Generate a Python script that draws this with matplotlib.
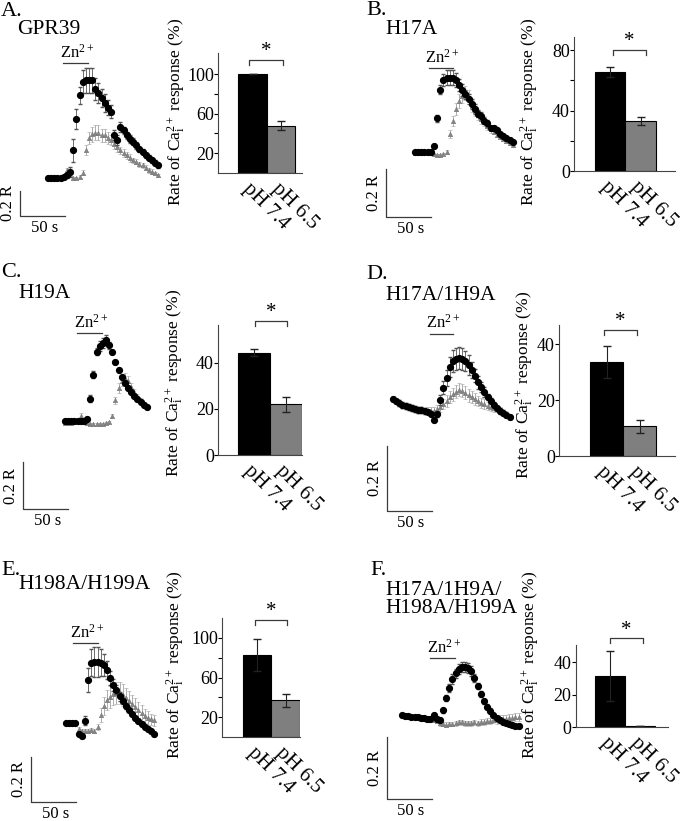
import numpy as np
import matplotlib
matplotlib.use("Agg")
import matplotlib.pyplot as plt

plt.rcParams["font.family"] = ["Liberation Serif", "DejaVu Serif"]
plt.rcParams["mathtext.fontset"] = "custom"
plt.rcParams["mathtext.rm"] = "Liberation Serif"
plt.rcParams["mathtext.it"] = "Liberation Serif:italic"
plt.rcParams["mathtext.bf"] = "Liberation Serif:bold"

# ---------------- data ----------------
letters = ["A.", "B.", "C.", "D.", "E.", "F."]
names = ["GPR39", "H17A", "H19A", "H17A/1H9A", "H198A/H199A",
         "H17A/1H9A/\nH198A/H199A"]
conditions = ["pH 7.4", "pH 6.5"]
dt = 3.5  # s between frames

# fura-2 ratio change (R) at pH 7.4 (black) and pH 6.5 (grey), mean and s.e.m.
a_ph74 = [0, 0, 0, 0, 0, 0.01, 0.02, 0.05, 0.22, 0.47, 0.66, 0.77, 0.78, 0.78, 0.78, 0.71, 0.68, 0.64,
          0.60, 0.56, 0.53, 0.34, 0.30, 0.41, 0.38, 0.34, 0.31, 0.29, 0.26, 0.23, 0.21, 0.18, 0.16, 0.14, 0.12, 0.10]
a_ph74_err = [0.01, 0.01, 0.01, 0.01, 0.01, 0.01, 0.02, 0.04, 0.09, 0.08, 0.07, 0.09, 0.10, 0.10, 0.10, 0.09, 0.08, 0.07,
              0.07, 0.06, 0.05, 0.04, 0.04, 0.04, 0.03, 0.03, 0.03, 0.03, 0.03, 0.02, 0.02, 0.02, 0.02, 0.02, 0.02, 0.02]
a_ph65 = [0, 0, 0, 0, 0.01, 0.02, 0.06, 0.02, 0, 0, 0.01, 0.04, 0.22, 0.32, 0.35, 0.36, 0.36, 0.34,
          0.34, 0.32, 0.30, 0.27, 0.25, 0.22, 0.20, 0.18, 0.16, 0.14, 0.13, 0.11, 0.10, 0.08, 0.06, 0.05, 0.04, 0.02]
a_ph65_err = [0.01, 0.01, 0.01, 0.01, 0.01, 0.01, 0.02, 0.01, 0.01, 0.01, 0.01, 0.02, 0.04, 0.05, 0.06, 0.06, 0.06, 0.05,
              0.05, 0.05, 0.04, 0.04, 0.04, 0.03, 0.03, 0.03, 0.03, 0.02, 0.02, 0.02, 0.02, 0.02, 0.02, 0.02, 0.01, 0.01]

b_ph74 = [0, 0, 0, 0, 0, 0, 0.025, 0.14, 0.26, 0.30, 0.31, 0.31, 0.31, 0.30, 0.28, 0.26,
          0.24, 0.22, 0.20, 0.18, 0.16, 0.15, 0.13, 0.12, 0.10, 0.10, 0.09, 0.075, 0.067, 0.058, 0.05, 0.042]
b_ph74_err = [0.005, 0.005, 0.005, 0.005, 0.005, 0.005, 0.01, 0.015, 0.02, 0.025, 0.03, 0.03, 0.03, 0.03, 0.025, 0.025,
              0.02, 0.02, 0.02, 0.02, 0.015, 0.015, 0.015, 0.015, 0.01, 0.01, 0.01, 0.01, 0.01, 0.01, 0.01, 0.01]
b_ph65 = [-0.004, -0.004, -0.004, -0.004, -0.004, -0.004, -0.008, -0.013, -0.013, -0.008, 0, 0.075, 0.129, 0.179, 0.213, 0.233,
          0.246, 0.229, 0.192, 0.171, 0.154, 0.138, 0.125, 0.108, 0.096, 0.083, 0.071, 0.063, 0.054, 0.046, 0.038, 0.029]
b_ph65_err = [0.005, 0.005, 0.005, 0.005, 0.005, 0.005, 0.005, 0.005, 0.005, 0.005, 0.01, 0.015, 0.02, 0.025, 0.03, 0.03,
              0.03, 0.03, 0.025, 0.02, 0.02, 0.02, 0.015, 0.015, 0.015, 0.01, 0.01, 0.01, 0.01, 0.01, 0.01, 0.01]

c_ph74 = [0, 0, 0, 0, 0, 0, 0, 0.009, 0.095, 0.196, 0.294, 0.319, 0.332, 0.345, 0.323, 0.294,
          0.251, 0.217, 0.187, 0.162, 0.140, 0.123, 0.106, 0.094, 0.081, 0.068, 0.060]
c_ph74_err = [0.005, 0.005, 0.005, 0.005, 0.005, 0.005, 0.005, 0.01, 0.015, 0.015, 0.015, 0.02, 0.02, 0.02, 0.015, 0.01,
              0.01, 0.01, 0.01, 0.01, 0.01, 0.01, 0.01, 0.01, 0.01, 0.01, 0.01]
c_ph65 = [-0.009, -0.009, -0.009, -0.004, 0.004, 0.021, 0, -0.009, -0.013, -0.013, -0.013, -0.013, -0.013, -0.009, -0.004, 0.021,
          0.089, 0.140, 0.170, 0.183, 0.170, 0.145, 0.123, 0.106, 0.089, 0.072, 0.060]
c_ph65_err = [0.005, 0.005, 0.005, 0.005, 0.01, 0.015, 0.005, 0.005, 0.005, 0.005, 0.005, 0.005, 0.005, 0.005, 0.005, 0.01,
              0.015, 0.02, 0.02, 0.02, 0.02, 0.015, 0.015, 0.01, 0.01, 0.01, 0.01]

d_ph74 = [0.003, -0.003, -0.009, -0.015, -0.018, -0.022, -0.025, -0.028, -0.031, -0.031, -0.034, -0.037, -0.043,
          -0.062, -0.043, 0, 0.037, 0.068, 0.102, 0.120, 0.126, 0.129, 0.126, 0.120, 0.108, 0.092, 0.074, 0.055,
          0.040, 0.025, 0.009, -0.003, -0.015, -0.025, -0.034, -0.040, -0.046, -0.052]
d_ph74_err = [0.006, 0.006, 0.006, 0.006, 0.006, 0.006, 0.006, 0.006, 0.006, 0.006, 0.006, 0.006, 0.006,
              0.006, 0.01, 0.015, 0.02, 0.025, 0.03, 0.035, 0.035, 0.035, 0.035, 0.03, 0.03, 0.025, 0.02, 0.02,
              0.015, 0.015, 0.01, 0.01, 0.01, 0.008, 0.008, 0.006, 0.006, 0.006]
d_ph65 = [0.003, -0.003, -0.009, -0.015, -0.018, -0.022, -0.025, -0.028, -0.031, -0.031, -0.034, -0.034, -0.034,
          -0.034, -0.028, -0.022, -0.012, -0.003, 0.009, 0.018, 0.025, 0.031, 0.028, 0.022, 0.015, 0.009, 0.003, -0.003,
          -0.009, -0.012, -0.018, -0.022, -0.025, -0.028, -0.031, -0.037, -0.043, -0.052]
d_ph65_err = [0.01, 0.01, 0.012, 0.012, 0.012, 0.012, 0.012, 0.012, 0.012, 0.012, 0.012, 0.012, 0.012,
              0.012, 0.012, 0.015, 0.015, 0.018, 0.018, 0.02, 0.02, 0.02, 0.02, 0.02, 0.02, 0.018, 0.018, 0.015,
              0.015, 0.015, 0.012, 0.012, 0.012, 0.01, 0.01, 0.01, 0.01, 0.01]

e_ph74 = [0, 0, 0, 0, -0.049, -0.058, 0.009, 0.191, 0.267, 0.271, 0.271, 0.267, 0.258, 0.236, 0.200,
          0.169, 0.147, 0.120, 0.098, 0.076, 0.058, 0.040, 0.022, 0.009, -0.004, -0.018, -0.027, -0.036, -0.049]
e_ph74_err = [0.005, 0.005, 0.005, 0.005, 0.01, 0.01, 0.02, 0.055, 0.06, 0.065, 0.065, 0.06, 0.05, 0.04, 0.03,
              0.025, 0.02, 0.02, 0.015, 0.015, 0.01, 0.01, 0.01, 0.01, 0.01, 0.01, 0.01, 0.01, 0.01]
e_ph65 = [0, 0, 0, 0, -0.027, -0.036, -0.036, -0.036, -0.031, -0.036, -0.018, 0.036, 0.076, 0.102, 0.116,
          0.129, 0.133, 0.133, 0.124, 0.111, 0.098, 0.084, 0.071, 0.058, 0.044, 0.031, 0.022, 0.016, 0.012]
e_ph65_err = [0.005, 0.005, 0.005, 0.005, 0.01, 0.01, 0.01, 0.01, 0.01, 0.01, 0.015, 0.03, 0.04, 0.045, 0.05,
              0.05, 0.05, 0.05, 0.05, 0.045, 0.045, 0.04, 0.04, 0.035, 0.035, 0.03, 0.03, 0.025, 0.025]

f_ph74 = [0, -0.002, -0.003, -0.005, -0.006, -0.008, -0.010, -0.011, -0.013, -0.013, 0, -0.013, -0.016,
          0.016, 0.055, 0.087, 0.116, 0.135, 0.148, 0.155, 0.155, 0.152, 0.142, 0.119, 0.094, 0.068, 0.045,
          0.026, 0.013, 0, -0.010, -0.016, -0.023, -0.026, -0.029, -0.032, -0.035, -0.035]
f_ph74_err = [0.005, 0.005, 0.005, 0.005, 0.005, 0.005, 0.005, 0.005, 0.005, 0.005, 0.008, 0.005, 0.005,
              0.008, 0.01, 0.012, 0.015, 0.015, 0.015, 0.015, 0.015, 0.015, 0.015, 0.012, 0.01, 0.01, 0.008,
              0.008, 0.008, 0.006, 0.006, 0.006, 0.006, 0.006, 0.006, 0.006, 0.006, 0.006]
f_ph65 = [0, -0.002, -0.003, -0.005, -0.006, -0.008, -0.010, -0.011, -0.013, -0.013, -0.016, -0.019, -0.026,
          -0.029, -0.032, -0.029, -0.029, -0.026, -0.023, -0.023, -0.026, -0.026, -0.026, -0.023, -0.026, -0.023,
          -0.023, -0.019, -0.019, -0.016, -0.016, -0.013, -0.013, -0.013, -0.010, -0.010, -0.006, -0.006]
f_ph65_err = [0.006, 0.006, 0.006, 0.006, 0.006, 0.006, 0.006, 0.006, 0.006, 0.008, 0.008, 0.008, 0.008,
              0.008, 0.008, 0.008, 0.008, 0.008, 0.008, 0.008, 0.008, 0.008, 0.008, 0.008, 0.008, 0.01, 0.01,
              0.01, 0.01, 0.01, 0.012, 0.012, 0.012, 0.012, 0.012, 0.012, 0.012, 0.012]

# Zn2+ application window (s from start of trace)
zn_a = [16.3, 44.8]
zn_b = [15.9, 41.7]
zn_c = [13.0, 40.8]
zn_d = [41.1, 67.0]
zn_e = [8.1, 35.9]
zn_f = [31.1, 58.9]

# rate of Ca2+i response (%), mean and s.e.m.
rate_a = [100, 48];  rate_a_err = [0, 4.4]
rate_b = [65.5, 33]; rate_b_err = [3.4, 2.5]
rate_c = [44.5, 22]; rate_c_err = [1.5, 3.1]
rate_d = [33.6, 10.6]; rate_d_err = [5.6, 2.3]
rate_e = [82.4, 37]; rate_e_err = [16, 6.4]
rate_f = [31.2, 0.8]; rate_f_err = [15.4, 0]

traces = [(a_ph74, a_ph74_err, a_ph65, a_ph65_err, zn_a),
          (b_ph74, b_ph74_err, b_ph65, b_ph65_err, zn_b),
          (c_ph74, c_ph74_err, c_ph65, c_ph65_err, zn_c),
          (d_ph74, d_ph74_err, d_ph65, d_ph65_err, zn_d),
          (e_ph74, e_ph74_err, e_ph65, e_ph65_err, zn_e),
          (f_ph74, f_ph74_err, f_ph65, f_ph65_err, zn_f)]
rates = [(rate_a, rate_a_err), (rate_b, rate_b_err), (rate_c, rate_c_err),
         (rate_d, rate_d_err), (rate_e, rate_e_err), (rate_f, rate_f_err)]

# ---------------- layout (pixels) ----------------
W, H = 693, 821
PXS = 0.9  # px per second on every trace

panels = [
    dict(org=(0, 0), x0=48, y0=178, pxR=125, corner=(20, 216), zn_py=63.3,
         bar=(218, 53, 302, 173), ymax=121.5, c0=252.5, unit=28.5,
         ticks=[20, 40, 60, 80, 100], tlab=["20", "", "60", "", "100"], bkt=(-0.11, 1.08, 60),
         ylab=(177, 112), letter=(1, 2), name=(17, 20)),
    dict(org=(350, 0), x0=415, y0=152, pxR=240, corner=(386, 217), zn_py=68.3,
         bar=(574, 37, 675, 171), ymax=88.6, c0=610, unit=30.5,
         ticks=[0, 20, 40, 60, 80], tlab=["0", "", "40", "", "80"], bkt=(0.09, 1.18, 50),
         ylab=(530, 112), letter=(366, 1), name=(385, 20)),
    dict(org=(0, 280), x0=65, y0=421, pxR=235, corner=(23.3, 509.3), zn_py=333.3,
         bar=(218, 325, 302, 455), ymax=56.5, c0=253.5, unit=32,
         ticks=[0, 20, 40], tlab=["0", "20", "40"], bkt=(0.05, 1.05, 320.7),
         ylab=(175, 383), letter=(1, 263), name=(18, 284)),
    dict(org=(350, 280), x0=393, y0=400, pxR=325, corner=(386.7, 511), zn_py=334,
         bar=(559, 325, 675, 456), ymax=46.8, c0=606.5, unit=33,
         ticks=[0, 20, 40], tlab=["0", "20", "40"], bkt=(-0.08, 0.92, 330),
         ylab=(525, 385), letter=(366, 265), name=(385, 286)),
    dict(org=(0, 550), x0=66, y0=723, pxR=225, corner=(31, 801.7), zn_py=643.3,
         bar=(222, 618, 300, 737), ymax=120, c0=257, unit=28.7,
         ticks=[20, 40, 60, 80, 100], tlab=["20", "", "60", "", "100"], bkt=(-0.07, 1.06, 620),
         ylab=(176, 665), letter=(1, 561), name=(18, 575)),
    dict(org=(350, 550), x0=402, y0=715, pxR=310, corner=(386.7, 799.3), zn_py=658.3,
         bar=(575.5, 645, 668, 727), ymax=50.5, c0=610, unit=30,
         ticks=[0, 20, 40], tlab=["0", "20", "40"], bkt=(0.0, 1.09, 638.3),
         ylab=(531, 665), letter=(370, 561), name=(385, 581)),
]


def box(l, t, r, b):
    return [l / W, 1 - b / H, (r - l) / W, (b - t) / H]


fig = plt.figure(figsize=(W / 100, H / 100), dpi=100)
line_col = "#3a3a3a"

for i, p in enumerate(panels):
    ox, oy = p["org"]
    ph74, ph74_err, ph65, ph65_err, zn = traces[i]

    # ---- trace ----
    l, t, r, b = ox + 2, oy + 30, ox + 178, oy + 268
    ax = fig.add_axes(box(l, t, r, b))
    ax.set_xlim((l - p["x0"]) / PXS, (r - p["x0"]) / PXS)
    ax.set_ylim((p["y0"] - b) / p["pxR"], (p["y0"] - t) / p["pxR"])
    ax.axis("off")

    t65 = np.arange(len(ph65)) * dt
    t74 = np.arange(len(ph74)) * dt
    ax.errorbar(t65, ph65, yerr=ph65_err, fmt="^", ms=3.2, color="#858585",
                mec="#777777", mew=0.4, ecolor="#a0a0a0", elinewidth=0.6, capsize=1.2, zorder=2)
    ax.errorbar(t74, ph74, yerr=ph74_err, fmt="o", ms=4.2, color="black",
                ecolor="#555555", elinewidth=0.6, capsize=1.2, zorder=3)

    # Zn2+ bar
    zy = (p["y0"] - p["zn_py"]) / p["pxR"]
    ax.plot(zn, [zy, zy], color=line_col, lw=0.9, clip_on=False)
    ax.annotate("Zn$^{2+}$", xy=(np.mean(zn), zy), xytext=(1, 1.5), textcoords="offset points",
                ha="center", va="bottom", fontsize=12, annotation_clip=False)

    # scale bar 50 s / 0.2 R
    cx = (p["corner"][0] - p["x0"]) / PXS
    cy = (p["y0"] - p["corner"][1]) / p["pxR"]
    ax.plot([cx, cx, cx + 50], [cy + 0.2, cy, cy], color=line_col, lw=0.9, clip_on=False)
    ax.annotate("50 s", xy=(cx + 27, cy), xytext=(0, -3), textcoords="offset points",
                ha="center", va="top", fontsize=12, annotation_clip=False)
    ax.annotate("0.2 R", xy=(cx, cy + 0.1), xytext=(-3, 0), textcoords="offset points",
                ha="right", va="center", rotation=90, fontsize=12, annotation_clip=False)

    # ---- bar chart ----
    bl, bt, br, bb = p["bar"]
    axb = fig.add_axes(box(bl, bt, br, bb))
    vals, errs = rates[i]
    axb.bar([0, 1], vals, width=1.0, color=["black", "#7f7f7f"], edgecolor="black", linewidth=0.8)
    axb.errorbar([0, 1], vals, yerr=errs, fmt="none", ecolor="#222222", elinewidth=0.8, capsize=3)
    axb.set_xlim((bl - p["c0"]) / p["unit"], (br - p["c0"]) / p["unit"])
    axb.set_ylim(0, p["ymax"])
    for s in ["top", "right"]:
        axb.spines[s].set_visible(False)
    for s in ["left", "bottom"]:
        axb.spines[s].set_linewidth(0.8)
        axb.spines[s].set_color("#444444")
    axb.set_yticks(p["ticks"])
    axb.set_yticklabels(p["tlab"], fontsize=13)
    axb.tick_params(axis="y", direction="out", length=3, width=0.8, pad=0)
    axb.set_xticks([0, 1])
    axb.set_xticklabels(conditions, rotation=-45, ha="left", va="top",
                        rotation_mode="anchor", fontsize=15)
    axb.tick_params(axis="x", length=0, pad=5)

    # significance bracket
    pxpu = (bb - bt) / p["ymax"]
    x1, x2, bpy = p["bkt"]
    by = (bb - bpy) / pxpu
    leg = 5 / pxpu
    axb.plot([x1, x1, x2, x2], [by - leg, by, by, by - leg], color=line_col, lw=0.9, clip_on=False)
    axb.annotate("*", xy=((x1 + x2) / 2, by), xytext=(0, -1), textcoords="offset points",
                 ha="center", va="bottom", fontsize=15, annotation_clip=False)

    fig.text(p["ylab"][0] / W, 1 - p["ylab"][1] / H,
             r"Rate of Ca$^{2+}_{\mathrm{i}}$ response (%)",
             rotation=90, ha="center", va="center", fontsize=12.5)

    # panel letter and construct name
    fig.text(p["letter"][0] / W, 1 - p["letter"][1] / H, letters[i],
             ha="left", va="top", fontsize=16)
    fig.text(p["name"][0] / W, 1 - p["name"][1] / H, names[i],
             ha="left", va="top", fontsize=15.5, linespacing=0.9)

fig.savefig("out.png", dpi=100)
